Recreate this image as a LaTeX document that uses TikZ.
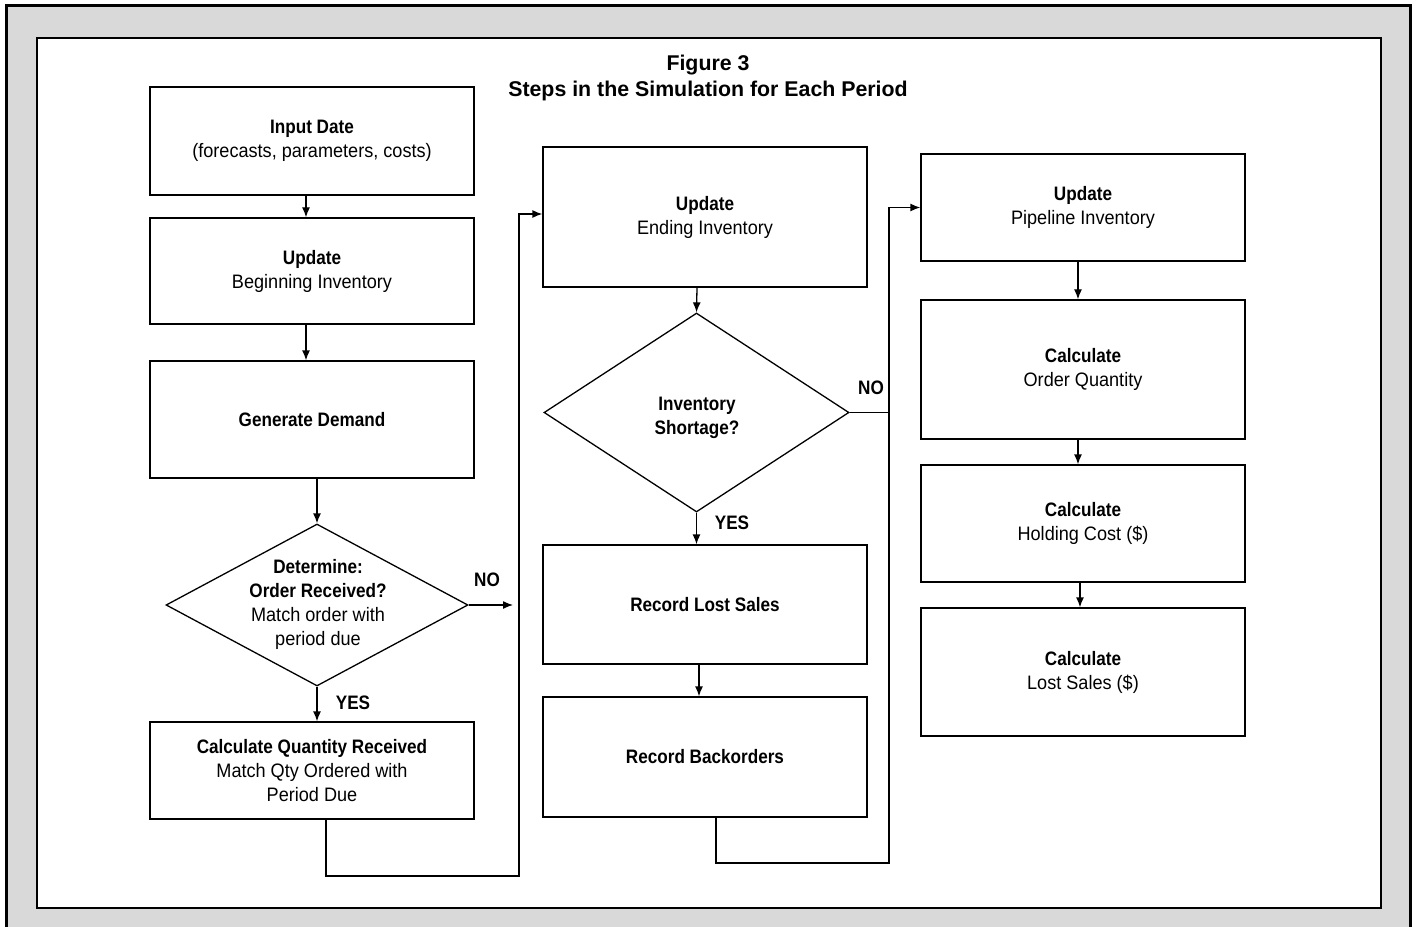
\documentclass[tikz,border=0pt]{standalone}
\usepackage{fontspec}
\setmainfont{Liberation Sans}
\newfontfamily\cond[FakeStretch=0.93,BoldFeatures={FakeStretch=0.88}]{Liberation Sans}
\usetikzlibrary{arrows.meta,calc,shapes.geometric}
\def\u{0.75pt}
\begin{document}
\begin{tikzpicture}[x=0.75pt,y=-0.75pt,
  box/.style={draw,line width=1.3*\u,minimum width={324*\u},align=center,inner sep=0pt,
     font=\cond\fontsize{14.6pt}{18pt}\selectfont},
  dia/.style={draw,line width=1.3*\u,diamond,inner sep=0pt},
  dtext/.style={align=center,font=\cond\fontsize{14.6pt}{18pt}\selectfont},
  lab/.style={font=\cond\bfseries\fontsize{14.6pt}{18pt}\selectfont},
  arr/.style={line width=1.3*\u,-{Latex[length={10*\u},width={8*\u}]}},
  ln/.style={line width=1.3*\u}]
\useasboundingbox (0,0) rectangle (1417,927);
% frame
\fill[black!15] (6,6) rectangle (1410,927);
\draw[line width=3*\u] (6,935) -- (6,6) -- (1410,6) -- (1410,935);
\fill[white] (37,38) rectangle (1381,908);
\draw[line width=2*\u] (37,38) rectangle (1381,908);
% title
\node[font=\bfseries\fontsize{16pt}{19.5pt}\selectfont,align=center] (title) at (708,78) {Figure 3\\Steps in the Simulation for Each Period};
% column 1
\node[box,minimum height={108*\u}] (b1) at (312,141) {\textbf{Input Date}\\(forecasts, parameters, costs)};
\node[box,minimum height={106*\u}] (b2) at (312,271) {\textbf{Update}\\Beginning Inventory};
\node[box,minimum height={117*\u}] (b3) at (312,419.5) {\textbf{Generate Demand}};
\node[dia,minimum width={302*\u},minimum height={162*\u}] (d1) at (317,605) {};
\node[dtext] (d1t) at (318,604) {\textbf{Determine:}\\\textbf{Order Received?}\\Match order with\\period due};
\node[box,minimum height={97*\u}] (b4) at (312,770.5) {\textbf{Calculate Quantity Received}\\Match Qty Ordered with\\Period Due};
% column 2
\node[box,minimum height={140*\u}] (b5) at (705,217) {\textbf{Update}\\Ending Inventory};
\node[dia,minimum width={305*\u},minimum height={199*\u}] (d2) at (696.5,412.5) {};
\node[dtext] (d2t) at (697,418) {\textbf{Inventory}\\\textbf{Shortage?}};
\node[box,minimum height={119*\u}] (b6) at (705,604.5) {\textbf{Record Lost Sales}};
\node[box,minimum height={120*\u}] (b7) at (705,757) {\textbf{Record Backorders}};
% column 3
\node[box,minimum height={107*\u}] (b8) at (1083,207.5) {\textbf{Update}\\Pipeline Inventory};
\node[box,minimum height={139*\u}] (b9) at (1083,369.5) {\textbf{Calculate}\\Order Quantity};
\node[box,minimum height={117*\u}] (b10) at (1083,523.5) {\textbf{Calculate}\\Holding Cost (\$)};
\node[box,minimum height={128*\u}] (b11) at (1083,672) {\textbf{Calculate}\\Lost Sales (\$)};
% connectors column 1
\draw[arr] ($(b1.south)+(-6,0)$) -- ($(b2.north)+(-6,0)$);
\draw[arr] ($(b2.south)+(-6,0)$) -- ($(b3.north)+(-6,0)$);
\draw[arr] (b3.south -| d1.north) -- (d1.north);
\draw[arr] (d1.south) -- (d1.south |- b4.north);
\node[lab] (yes1) at (353,703) {YES};
\coordinate (noend1) at (513,605);
\draw[arr] (d1.east) -- (noend1);
\node[lab] (no1) at (487,580) {NO};
\coordinate (j1) at (519,876);
\draw[arr] ($(b4.south)+(14,0)$) |- (j1) |- ($(b5.west)+(0,-3)$);
% connectors column 2
\draw[arr] ($(b5.south)+(-8,0)$) -- (d2.north);
\draw[arr] (d2.south) -- (d2.south |- b6.north);
\node[lab] (yes2) at (732,523) {YES};
\draw[arr] ($(b6.south)+(-6,0)$) -- ($(b7.north)+(-6,0)$);
\node[lab] (no2) at (871,388) {NO};
\coordinate (j2) at (889,863);
\draw[ln] (d2.east) -- (d2.east -| j2);
\draw[arr] ($(b7.south)+(11,0)$) |- (j2) |- (b8.west);
% connectors column 3
\draw[arr] ($(b8.south)+(-5,0)$) -- ($(b9.north)+(-5,0)$);
\draw[arr] ($(b9.south)+(-5,0)$) -- ($(b10.north)+(-5,0)$);
\draw[arr] ($(b10.south)+(-3,0)$) -- ($(b11.north)+(-3,0)$);
\end{tikzpicture}
\end{document}
